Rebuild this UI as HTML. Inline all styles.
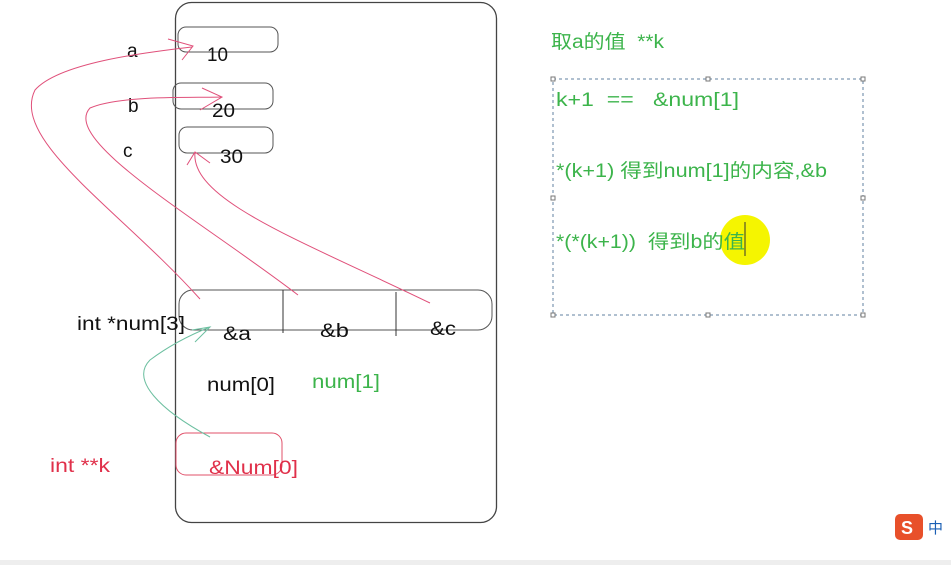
<html><head><style>body{margin:0;background:#fff}svg text{font-family:"Liberation Sans","Noto Sans CJK SC",sans-serif}</style></head><body>
<svg width="951" height="565" xmlns="http://www.w3.org/2000/svg">
<rect x="0" y="0" width="951" height="565" fill="#fff"/>
<rect x="0" y="560" width="951" height="5" fill="#eee"/>
<rect x="175.5" y="2.5" width="321" height="520" rx="16" fill="none" stroke="#444" stroke-width="1.3"/>
<rect x="178" y="27" width="100" height="25" rx="8" fill="none" stroke="#555"/>
<rect x="173" y="83" width="100" height="26" rx="8" fill="none" stroke="#555"/>
<rect x="179" y="127" width="94" height="26" rx="8" fill="none" stroke="#555"/>
<rect x="179" y="290" width="313" height="40" rx="14" fill="none" stroke="#555"/>
<line x1="283" y1="290" x2="283" y2="333" stroke="#333"/>
<line x1="396" y1="292" x2="396" y2="336" stroke="#333"/>
<rect x="176" y="433" width="106" height="42" rx="10" fill="none" stroke="#e0506a"/>
<g font-size="19" fill="#111" lengthAdjust="spacingAndGlyphs">
<text x="207" y="61" textLength="21" lengthAdjust="spacingAndGlyphs">10</text>
<text x="212" y="117" textLength="23" lengthAdjust="spacingAndGlyphs">20</text>
<text x="220" y="163" textLength="23" lengthAdjust="spacingAndGlyphs">30</text>
<text x="127" y="57">a</text><text x="128" y="112">b</text><text x="123" y="157">c</text>
<text x="223" y="340" textLength="28" lengthAdjust="spacingAndGlyphs">&amp;a</text>
<text x="320" y="337" textLength="29" lengthAdjust="spacingAndGlyphs">&amp;b</text>
<text x="430" y="335" textLength="26" lengthAdjust="spacingAndGlyphs">&amp;c</text>
<text x="77" y="330" textLength="108" lengthAdjust="spacingAndGlyphs">int *num[3]</text>
<text x="207" y="391" textLength="68" lengthAdjust="spacingAndGlyphs">num[0]</text>
</g>
<text x="312" y="388" font-size="19" fill="#3cb44b" textLength="68" lengthAdjust="spacingAndGlyphs">num[1]</text>
<text x="209" y="474" font-size="19" fill="#e0304a" textLength="89" lengthAdjust="spacingAndGlyphs">&amp;Num[0]</text>
<text x="50" y="472" font-size="19" fill="#e0304a" textLength="60" lengthAdjust="spacingAndGlyphs">int **k</text>
<g fill="none" stroke="#e0507a" stroke-width="1">
<path d="M200,299 C120,210 10,140 35,90 C60,62 150,52 192,47"/>
<path d="M168,39 L193,46 L182,60"/>
<path d="M298,295 C200,220 60,140 90,108 C120,95 190,98 222,97"/>
<path d="M202,88 L222,97 L200,110"/>
<path d="M430,303 C300,240 190,200 195,152"/>
<path d="M187,165 L195,152 L210,163"/>
</g>
<g fill="none" stroke="#6cbfa0" stroke-width="1">
<path d="M210,437 C160,410 130,380 150,360 C170,345 190,335 210,327"/>
<path d="M195,342 L210,327 L192,330"/>
</g>
<circle cx="745" cy="240" r="25" fill="#f5f500"/>
<g font-size="19" fill="#3cb44b">
<text x="551" y="48" textLength="113" lengthAdjust="spacingAndGlyphs" xml:space="preserve">取a的值  **k</text>
<text x="556" y="106" xml:space="preserve" textLength="183" lengthAdjust="spacingAndGlyphs">k+1  ==   &amp;num[1]</text>
<text x="556" y="177" textLength="271" lengthAdjust="spacingAndGlyphs">*(k+1) 得到num[1]的内容,&amp;b</text>
<text x="556" y="248" xml:space="preserve" textLength="189" lengthAdjust="spacingAndGlyphs">*(*(k+1))  得到b的值</text>
</g>
<line x1="745" y1="222" x2="745" y2="256" stroke="#333"/>
<rect x="553" y="79" width="310" height="236" fill="none" stroke="#6080a0" stroke-dasharray="3,3"/>
<g fill="#fff" stroke="#777"><rect x="551" y="77" width="4" height="4"/><rect x="706" y="77" width="4" height="4"/><rect x="861" y="77" width="4" height="4"/><rect x="551" y="196" width="4" height="4"/><rect x="861" y="196" width="4" height="4"/><rect x="551" y="313" width="4" height="4"/><rect x="706" y="313" width="4" height="4"/><rect x="861" y="313" width="4" height="4"/></g>
<rect x="895" y="514" width="28" height="26" rx="5" fill="#e8502a"/>
<text x="901" y="534" font-size="18" fill="#fff" font-weight="bold">S</text>
<text x="928" y="533" font-size="15" fill="#1a5fb4">中</text>
</svg></body></html>
